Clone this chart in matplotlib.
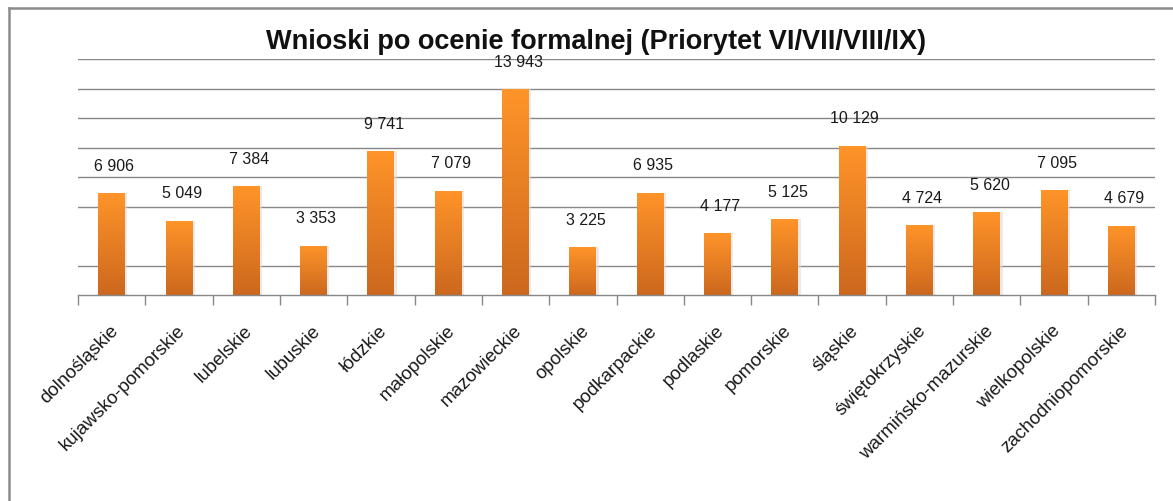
import numpy as np
import matplotlib.pyplot as plt
from matplotlib.lines import Line2D
from matplotlib.transforms import ScaledTranslation

# regions and number of applications after formal assessment
regions = ['dolnośląskie', 'kujawsko-pomorskie', 'lubelskie', 'lubuskie', 'łódzkie',
           'małopolskie', 'mazowieckie', 'opolskie', 'podkarpackie', 'podlaskie',
           'pomorskie', 'śląskie', 'świętokrzyskie', 'warmińsko-mazurskie',
           'wielkopolskie', 'zachodniopomorskie']
applications = [6906, 5049, 7384, 3353, 9741, 7079, 13943, 3225, 6935, 4177,
                5125, 10129, 4724, 5620, 7095, 4679]
title = 'Wnioski po ocenie formalnej (Priorytet VI/VII/VIII/IX)'

plt.rcParams['font.family'] = ['Liberation Sans', 'DejaVu Sans']

W, H = 1173, 501
fig = plt.figure(figsize=(W / 100, H / 100), dpi=100)
ax = fig.add_axes([78 / W, 1 - 295 / H, (1155 - 78) / W, (295 - 59) / H])

x = np.arange(len(regions))
grid_col = '#878787'

# gridlines every 2000 (the 4000 line does not show in the original)
for g in range(2000, 16001, 2000):
    if g == 4000:
        continue
    ax.axhline(g, color=grid_col, lw=1.0, zorder=0)

# soft shadow behind bars
ax.bar(x + 0.035, applications, width=0.4, color='#dcdcdc', alpha=0.6, zorder=1)
bars = ax.bar(x, applications, width=0.4, color='none', zorder=2)

grad = np.linspace(0, 1, 256).reshape(-1, 1)
top = np.array([255, 148, 41]) / 255
bot = np.array([204, 104, 30]) / 255
img = (top + (bot - top) * grad[..., None]).reshape(256, 1, 3)
for b in bars:
    x0, y0 = b.get_x(), b.get_y()
    im = ax.imshow(img, extent=[x0, x0 + b.get_width(), y0, y0 + b.get_height()],
                   aspect='auto', zorder=2, interpolation='bilinear')
    im.set_clip_path(b)

for xi, v in zip(x, applications):
    ax.annotate(f'{v:,}'.replace(',', ' '), (xi, v), xytext=(2, 19.5),
                textcoords='offset points', ha='center', va='center',
                fontsize=11.5, color='#1a1a1a')

ax.set_xlim(-0.5, len(regions) - 0.5)
ax.set_ylim(0, 16000)
ax.set_yticks([])
for s in ['top', 'right', 'left']:
    ax.spines[s].set_visible(False)
ax.spines['bottom'].set_color(grid_col)
ax.spines['bottom'].set_linewidth(1.0)

ax.set_xticks(np.arange(-0.5, len(regions)))
ax.set_xticklabels([])
ax.tick_params(axis='x', which='major', length=7, color=grid_col, width=1.0)
ax.set_xticks(x, minor=True)
ax.set_xticklabels(regions, minor=True, rotation=45, ha='right', va='center',
                   rotation_mode='anchor', fontsize=13.5, color='#1a1a1a')
ax.tick_params(axis='x', which='minor', length=0, pad=24)
shift = ScaledTranslation(4 / 100, 0, fig.dpi_scale_trans)
for lab in ax.get_xticklabels(minor=True):
    lab.set_transform(lab.get_transform() + shift)

fig.text(596 / W, 1 - 42 / H, title, ha='center', va='center',
         fontsize=19.5, fontweight='bold', color='#111111')

# chart frame (left and top edges visible)
fig.add_artist(Line2D([9 / W, 9 / W], [0, 1 - 8 / H], color='#8c8c8c', lw=1.8,
                      transform=fig.transFigure))
fig.add_artist(Line2D([9 / W, 1], [1 - 8 / H, 1 - 8 / H], color='#8c8c8c', lw=1.8,
                      transform=fig.transFigure))

fig.savefig('out.png', dpi=100)
